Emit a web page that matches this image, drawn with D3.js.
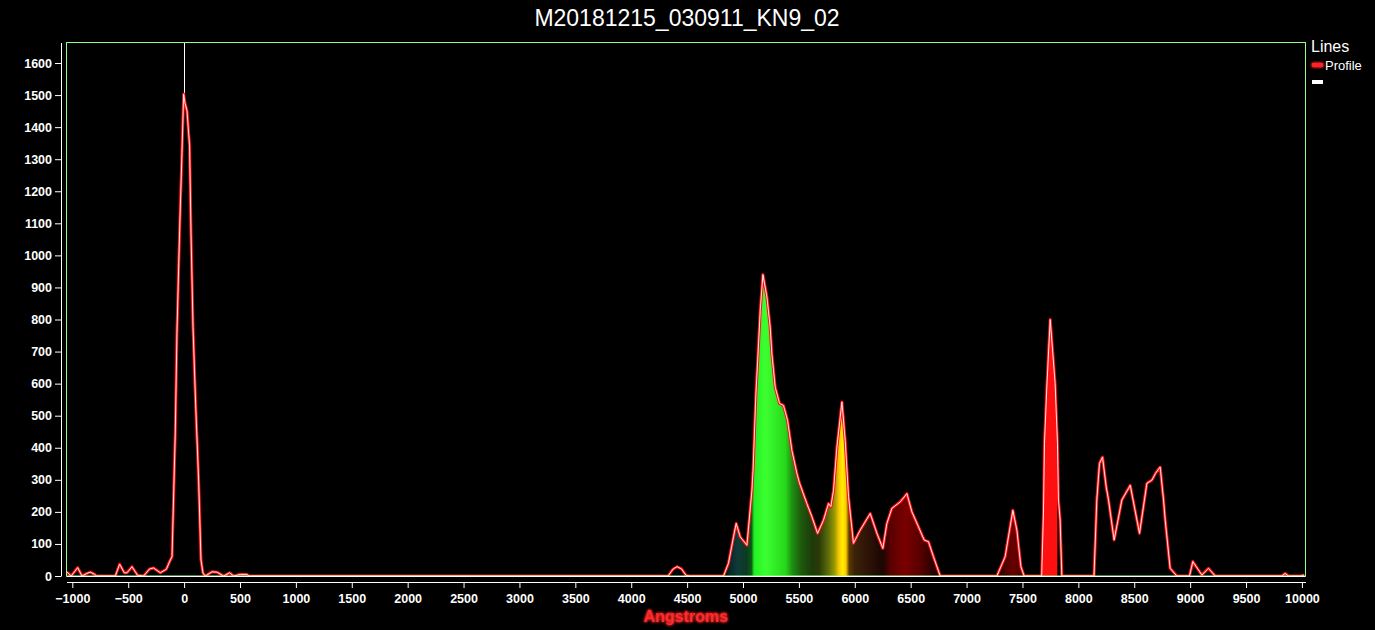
<!DOCTYPE html>
<html>
<head>
<meta charset="utf-8">
<script src="https://cdn.jsdelivr.net/npm/d3@7"></script>
<style>
body { margin: 0; background: #000; }
svg { display: block; font-family: Arial, "Liberation Sans", sans-serif; }
</style>
</head>
<body>
<svg id="chart"></svg>
<script>
// profile samples (wavelength in Angstroms, counts)
var wavelengths = [-1050, -1010, -952, -913, -870, -839, -800, -785, -615, -577, -535, -511, -466, -416, -362,
    -309, -273, -213, -159, -123, -108, -79, -64, -40, -19, -4, 8, 26, 49, 62, 80, 103, 130, 151, 169, 190,
    250, 294, 353, 407, 443, 503, 562, 580,
    4330, 4375, 4410, 4450, 4490, 4520,
    4826, 4870, 4915, 4939, 4975, 5035, 5080, 5090, 5115, 5139, 5154, 5178, 5214, 5243, 5258, 5288, 5327,
    5362, 5398, 5437, 5482, 5505, 5571, 5616, 5667, 5720, 5765, 5786, 5810, 5840, 5885, 5914, 5944, 5988,
    6048, 6138, 6198, 6251, 6287, 6332, 6406, 6466, 6511, 6570, 6621, 6659, 6704, 6764,
    7271, 7345, 7414, 7450, 7486, 7515,
    7672, 7688, 7697, 7718, 7748, 7792, 7813, 7822, 7837, 7852,
    8140, 8165, 8189, 8216, 8249, 8270, 8320, 8389, 8464, 8547, 8613, 8658, 8690, 8732, 8762, 8777, 8821, 8881,
    8994, 9024, 9105, 9164, 9224,
    9820, 9850, 9880, 9990, 10020];
var counts = [13, 0, 26, 0, 8, 12, 5, 0, 0, 37, 10, 10, 29, 2, 0,
    22, 25, 10, 21, 50, 60, 445, 757, 1077, 1321, 1503, 1475, 1451, 1342, 1068, 775, 539, 299, 50, 9, 0,
    13, 12, 0, 10, 0, 5, 5, 0,
    0, 22, 29, 22, 2, 0,
    0, 40, 122, 164, 122, 96, 268, 330, 565, 724, 828, 940, 870, 776, 693, 589, 538,
    532, 486, 392, 320, 290, 226, 185, 133, 174, 226, 216, 268, 402, 543, 423, 247, 102,
    143, 195, 133, 86, 164, 211, 231, 257, 200, 153, 112, 107, 60, 0,
    0, 60, 205, 143, 29, 0,
    0, 196, 414, 589, 800, 600, 414, 237, 174, 0,
    0, 237, 351, 371, 278, 237, 112, 237, 283, 133, 289, 299, 320, 340, 237, 174, 24, 0,
    0, 45, 3, 24, 0,
    0, 8, 0, 0, 3];

// colour under the profile, by wavelength
var spectrumStops = [-1100, 4820, 4880, 4950, 5030, 5075, 5100, 5200, 5380, 5440, 5520, 5620, 5680, 5760,
    5820, 5860, 5890, 5920, 5950, 6000, 6150, 6250, 6320, 6450, 6580, 6700, 6800, 7300, 7420, 7520,
    7640, 7660, 7810, 7815, 10100];
var spectrumColors = ["#000000", "#000000", "#0a2628", "#0f3a3a", "#0c3a22", "#0a5a14", "#22f022", "#3cff30",
    "#26d81a", "#1f8f12", "#1d5a0c", "#1e3a0a", "#2a3a0a", "#5a6a0a", "#9a9a00", "#ffc800", "#ffee00",
    "#ffcc00", "#5a3a00", "#3a2208", "#2a1006", "#1a0604", "#5a0000", "#7a0000", "#5a0000", "#2a0000",
    "#100000", "#3a0000", "#6a0000", "#3a0000", "#ff1010", "#ff1010", "#ff1010", "#000000", "#000000"];

var xTicks = [-1000, -500, 0, 500, 1000, 1500, 2000, 2500, 3000, 3500, 4000, 4500, 5000,
    5500, 6000, 6500, 7000, 7500, 8000, 8500, 9000, 9500, 10000];
var yTicks = [0, 100, 200, 300, 400, 500, 600, 700, 800, 900, 1000, 1100, 1200, 1300, 1400, 1500, 1600];

var legendLabels = ["Profile", ""];
var legendColors = ["#ff2020", "#ffffff"];

var width = 1375,
    height = 630;

var svg = d3.select("#chart")
    .attr("width", width)
    .attr("height", height);

svg.append("rect")
    .attr("width", width)
    .attr("height", height)
    .attr("fill", "#000");

var x = d3.scaleLinear()
    .domain([-1052, 10032])
    .range([66.5, 1305.5]);

var y = d3.scaleLinear()
    .domain([0, 1664])
    .range([576, 42.5]);

var data = wavelengths.map(function (w, i) { return { w: w, v: counts[i] }; });

var defs = svg.append("defs");

var g0 = x(spectrumStops[0]),
    g1 = x(spectrumStops[spectrumStops.length - 1]);

var grad = defs.append("linearGradient")
    .attr("id", "spec")
    .attr("gradientUnits", "userSpaceOnUse")
    .attr("x1", g0)
    .attr("x2", g1)
    .attr("y1", 0)
    .attr("y2", 0);

grad.selectAll("stop")
    .data(spectrumStops)
    .enter().append("stop")
    .attr("offset", function (d) { return (x(d) - g0) / (g1 - g0); })
    .attr("stop-color", function (d, i) { return spectrumColors[i]; });

var glow = defs.append("filter")
    .attr("id", "glow")
    .attr("x", "-20%").attr("y", "-50%")
    .attr("width", "140%").attr("height", "200%");
glow.append("feGaussianBlur")
    .attr("in", "SourceGraphic")
    .attr("stdDeviation", 1.4)
    .attr("result", "blur");
var merge = glow.append("feMerge");
merge.append("feMergeNode").attr("in", "blur");
merge.append("feMergeNode").attr("in", "blur");
merge.append("feMergeNode").attr("in", "SourceGraphic");

defs.append("clipPath")
    .attr("id", "plotclip")
    .append("rect")
    .attr("x", x.range()[0])
    .attr("y", y.range()[1])
    .attr("width", x.range()[1] - x.range()[0])
    .attr("height", y.range()[0] - y.range()[1]);

// zero order marker, above the peak
svg.append("line")
    .attr("x1", Math.round(x(0)) + 0.5).attr("x2", Math.round(x(0)) + 0.5)
    .attr("y1", y.range()[1]).attr("y2", y(d3.max(counts)))
    .attr("stroke", "#fff")
    .attr("stroke-width", 1);

var plot = svg.append("g").attr("clip-path", "url(#plotclip)");

var area = d3.area()
    .x(function (d) { return x(d.w); })
    .y0(y(0))
    .y1(function (d) { return y(d.v); });

var line = d3.line()
    .x(function (d) { return x(d.w); })
    .y(function (d) { return y(d.v); });

plot.append("path")
    .datum(data)
    .attr("fill", "url(#spec)")
    .attr("d", area);

// frame
svg.append("rect")
    .attr("x", x.range()[0])
    .attr("y", y.range()[1])
    .attr("width", x.range()[1] - x.range()[0])
    .attr("height", y.range()[0] - y.range()[1])
    .attr("fill", "none")
    .attr("stroke", "#90ff90")
    .attr("stroke-width", 1);

svg.append("line")
    .attr("x1", x.range()[0]).attr("x2", x.range()[1])
    .attr("y1", y(0) + 0.5).attr("y2", y(0) + 0.5)
    .attr("stroke", "#fff");

plot.append("path")
    .datum(data)
    .attr("fill", "none")
    .attr("stroke", "#ff1010")
    .attr("stroke-width", 3)
    .attr("stroke-linejoin", "round")
    .attr("d", line);

plot.append("path")
    .datum(data)
    .attr("fill", "none")
    .attr("stroke", "#ffe8e8")
    .attr("stroke-width", 1)
    .attr("stroke-linejoin", "round")
    .attr("d", line);

// axes
var fmt = d3.format("d");

var yAxis = svg.append("g")
    .attr("transform", "translate(61,0)")
    .call(d3.axisLeft(y).tickValues(yTicks).tickFormat(fmt).tickSize(6).tickSizeOuter(0).tickPadding(3));

var xAxis = svg.append("g")
    .attr("transform", "translate(0,582)")
    .call(d3.axisBottom(x).tickValues(xTicks).tickFormat(fmt).tickSize(6).tickSizeOuter(0).tickPadding(6.5));

[yAxis, xAxis].forEach(function (ax) {
    ax.select(".domain").attr("stroke", "#fff");
    ax.selectAll(".tick line").attr("stroke", "#fff");
    ax.selectAll(".tick text")
        .attr("fill", "#fff")
        .attr("font-size", "12.5px")
        .attr("font-weight", "bold")
        .attr("font-family", "Arial, 'Liberation Sans', sans-serif");
});

// titles
svg.append("text")
    .attr("x", 687)
    .attr("y", 26)
    .attr("text-anchor", "middle")
    .attr("fill", "#fff")
    .attr("font-size", "23px")
    .text("M20181215_030911_KN9_02");

svg.append("text")
    .attr("x", 686)
    .attr("y", 622)
    .attr("text-anchor", "middle")
    .attr("fill", "#ff2a2a")
    .attr("font-size", "16px")
    .attr("font-weight", "bold")
    .attr("filter", "url(#glow)")
    .text("Angstroms");

// legend
var legend = svg.append("g").attr("transform", "translate(1311,0)");

legend.append("text")
    .attr("x", 0)
    .attr("y", 52)
    .attr("fill", "#fff")
    .attr("font-size", "16px")
    .text("Lines");

var items = legend.selectAll(".item")
    .data(legendLabels)
    .enter().append("g")
    .attr("class", "item")
    .attr("transform", function (d, i) { return "translate(0," + (63 + i * 17) + ")"; });

items.append("rect")
    .attr("x", 1)
    .attr("y", 0)
    .attr("width", 11)
    .attr("height", 4)
    .attr("fill", function (d, i) { return legendColors[i]; })
    .attr("filter", function (d, i) { return i === 0 ? "url(#glow)" : null; });

items.append("text")
    .attr("x", 14)
    .attr("y", 6.5)
    .attr("fill", "#fff")
    .attr("font-size", "13px")
    .text(function (d) { return d; });
</script>
</body>
</html>
